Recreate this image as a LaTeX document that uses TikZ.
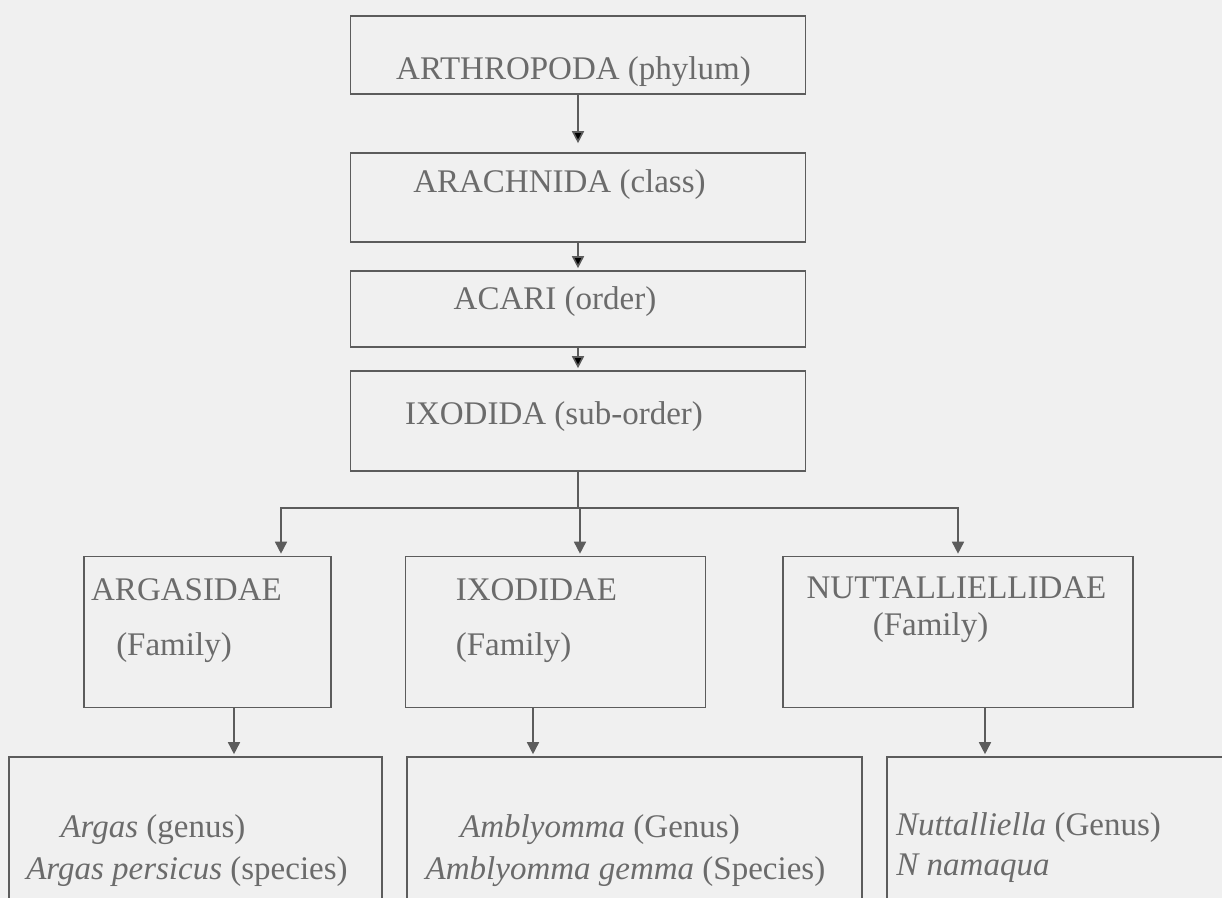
\documentclass[tikz,border=0pt]{standalone}
\usepackage{fontspec}
\setmainfont{Liberation Serif}
\usetikzlibrary{positioning,arrows.meta}
\definecolor{scanbg}{gray}{0.94}
\definecolor{scanline}{gray}{0.36}
\definecolor{scantext}{gray}{0.42}

\begin{document}
\begin{tikzpicture}[-,>={Triangle[length=6pt,width=6pt]},shorten >=1pt,node distance=2cm,line width=0.8pt,
  font=\fontsize{16.5}{19}\selectfont,
  box/.style={rectangle,draw=scanline,inner sep=0pt,minimum width=227.5pt},
  every label/.style={text=scantext,inner sep=0pt}]

    \path[use as bounding box, fill=scanbg] (0,0) rectangle (611pt,-449pt);
    \clip (0,0) rectangle (611pt,-449pt);

            \node[box, minimum height=39pt, label={[xshift=-2.25pt,yshift=-8.5pt]center:ARTHROPODA (phylum)}]  (phylum) at (289pt,-27.5pt) {};
            \node[box, minimum height=44.5pt, label={[xshift=-9.25pt,yshift=6.25pt]center:ARACHNIDA (class)}]  (class) [below of = phylum, node distance=71.25pt]{};
            \node[box, minimum height=38pt, label={[xshift=-11.5pt,yshift=3.5pt]center:ACARI (order)}]  (order) [below of = class, node distance=55.75pt]{};
            \node[box, minimum height=50pt, label={[xshift=-12pt,yshift=2pt]center:IXODIDA (sub-order)}]  (suborder) [below of = order, node distance=56pt]{};

            % families
            \node[box, minimum width=150pt, minimum height=75.5pt,
                  label={[xshift=-9.5pt,yshift=21pt]center:IXODIDAE},
                  label={[xshift=-21pt,yshift=-8pt]center:(Family)}]  (ixodidae) [below of = suborder, node distance=105.5pt, xshift=-11.25pt]{};
            \node[box, minimum width=123.5pt, minimum height=75.5pt,
                  label={[xshift=-10.5pt,yshift=21pt]center:ARGASIDAE},
                  label={[xshift=-16.75pt,yshift=-8pt]center:(Family)}]  (argasidae) [left of = ixodidae, node distance=174pt]{};
            \node[box, minimum width=175pt, minimum height=75.5pt,
                  label={[xshift=-0.75pt,yshift=22pt]center:NUTTALLIELLIDAE},
                  label={[xshift=-13.75pt,yshift=2pt]center:(Family)}]  (nuttalliellidae) [right of = ixodidae, node distance=201.25pt]{};

            % genera
            \node[box, minimum width=186.5pt, minimum height=81.5pt,
                  label={[xshift=-21.25pt,yshift=4.25pt]center:\textit{Argas} (genus)},
                  label={[xshift=-4.25pt,yshift=-16.75pt]center:\textit{Argas persicus} (species)}]  (argas) [below of = argasidae, node distance=103.25pt, xshift=-6pt]{};
            \node[box, minimum width=227.5pt, minimum height=81.5pt,
                  label={[xshift=-17.25pt,yshift=4.25pt]center:\textit{Amblyomma} (Genus)},
                  label={[xshift=-4.5pt,yshift=-16.75pt]center:\textit{Amblyomma gemma} (Species)}]  (amblyomma) [below of = ixodidae, node distance=103.25pt, xshift=39.5pt]{};
            \node[box, minimum width=176.5pt, minimum height=81.5pt,
                  label={[xshift=-17.5pt,yshift=5.25pt]center:\textit{Nuttalliella} (Genus)},
                  label={[xshift=-45.25pt,yshift=-14.75pt]center:\textit{N namaqua}}]  (nuttalliella) [below of = nuttalliellidae, node distance=103.25pt, xshift=52.75pt]{};

            \path[->, draw=scanline]
                (phylum) edge[shorten >=4.5pt] (class)
                (class) edge (order)
                (order) edge (suborder)
            ;
            \draw[->, scanline] (suborder.south) -- ++(0,-18pt) -| ([xshift=36.75pt]argasidae.north);
            \draw[->, scanline] (suborder.south) -- ++(0,-18pt) -| ([xshift=12.25pt]ixodidae.north);
            \draw[->, scanline] (suborder.south) -- ++(0,-18pt) -| (nuttalliellidae.north);

            \draw[->, scanline] ([xshift=13.25pt]argasidae.south) -- ([xshift=13.25pt]argasidae.south |- argas.north);
            \draw[->, scanline] ([xshift=-11.25pt]ixodidae.south) -- ([xshift=-11.25pt]ixodidae.south |- amblyomma.north);
            \draw[->, scanline] ([xshift=13.5pt]nuttalliellidae.south) -- ([xshift=13.5pt]nuttalliellidae.south |- nuttalliella.north);
        \end{tikzpicture}
\end{document}
